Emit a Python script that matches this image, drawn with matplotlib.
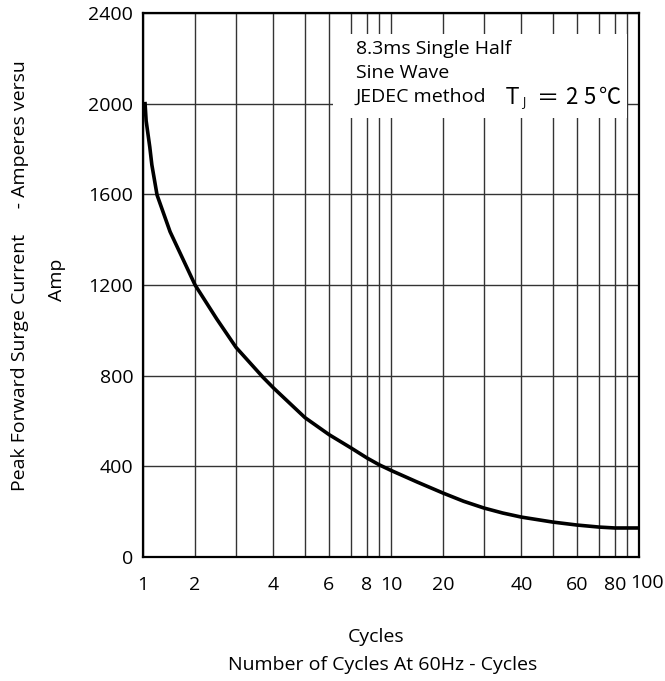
import numpy as np
import matplotlib
matplotlib.use("Agg")
import matplotlib.pyplot as plt
from matplotlib.patches import Rectangle
from matplotlib.ticker import FixedLocator, NullFormatter

# (cycles at 60 Hz vs peak surge current, A)
cycles = [1.04, 1.06, 1.13, 1.17, 1.27, 1.52, 2, 2.53, 3, 3.72, 4, 5, 6, 7, 8, 9, 10,
          15, 20, 25, 30, 35, 40, 50, 60, 70, 80, 90, 100]
current = [2000, 1925, 1809, 1730, 1597, 1435, 1200, 1050, 925, 793, 746, 615, 540,
           481, 437, 407, 382, 331, 282, 246, 216, 194, 176, 154, 141, 132, 128, 128, 128]

x_labels = [1, 2, 4, 6, 8, 10, 20, 40, 60, 80, 100]
x_grid = [3, 5, 7, 9, 30, 50, 70, 90]
y_ticks = [0, 400, 800, 1200, 1600, 2000, 2400]
notes = ["8.3ms Single Half", "Sine Wave", "JEDEC method"]

# the printed log paper is not a true log scale: position of 1..10 inside a decade
MANT = np.array([1, 2, 3, 4, 5, 6, 7, 8, 9, 10], dtype=float)
FRAC = np.array([0, 0.21, 0.375, 0.526, 0.653, 0.75, 0.839, 0.903, 0.952, 1.0])


def fwd(x):
    x = np.clip(np.asarray(x, dtype=float), 1e-3, None)
    dec = np.floor(np.log10(x) + 1e-9)
    m = x / 10.0 ** dec
    return dec + np.interp(m, MANT, FRAC)


def inv(p):
    p = np.asarray(p, dtype=float)
    dec = np.floor(p + 1e-9)
    return np.interp(p - dec, FRAC, MANT) * 10.0 ** dec


def axpos(px, py):
    # pixel position in the picture -> axes fraction
    return (px - 143) / 496, (557 - py) / 544


plt.rcParams["font.family"] = ["Open Sans", "DejaVu Sans"]
plt.rcParams["font.size"] = 14

fig = plt.figure(figsize=(6.65, 6.81), dpi=100)
ax = fig.add_axes([143 / 665, 1 - 557 / 681, 496 / 665, 544 / 681])
ax.set_xscale("function", functions=(fwd, inv))
ax.set_xlim(1, 100)
ax.set_ylim(0, 2400)

ax.plot(cycles, current, color="black", lw=2.6, solid_joinstyle="round", zorder=3)

ax.xaxis.set_major_locator(FixedLocator(x_labels))
ax.set_xticklabels([str(v) for v in x_labels[:-1]] + [""])
ax.xaxis.set_minor_locator(FixedLocator(x_grid))
ax.xaxis.set_minor_formatter(NullFormatter())
ax.set_yticks(y_ticks)
ax.tick_params(axis="both", which="both", length=0)
ax.tick_params(axis="x", pad=14)
ax.tick_params(axis="y", pad=7)

ax.grid(True, which="both", axis="x", color="#333333", lw=1.0)
ax.grid(True, which="major", axis="y", color="#333333", lw=1.0)
for s in ax.spines.values():
    s.set_linewidth(1.6)

# last x label sits a little right of its grid line in the reference
fig.text(647 / 665, 1 - 583 / 681, "100", ha="center", va="center")

# white panel behind the notes, breaking the grid
ax.add_patch(Rectangle((0.383, 0.807), 0.593, 0.154, transform=ax.transAxes,
                       facecolor="white", edgecolor="none", zorder=2))

for i, line in enumerate(notes):
    ax.text(*axpos(356, 49 + 24 * i), line, transform=ax.transAxes,
            ha="left", va="center", zorder=4)
ax.text(*axpos(506, 98), "T", transform=ax.transAxes,
        ha="left", va="center", fontsize=17, zorder=4)
ax.text(*axpos(522, 102), "J", transform=ax.transAxes,
        ha="left", va="center", fontsize=9, zorder=4)
cjk = ["Noto Sans CJK SC", "DejaVu Sans"]
for ch, px in [("＝", 548), ("2", 571), ("5", 590), ("℃", 610)]:
    ax.text(*axpos(px, 98), ch, transform=ax.transAxes, ha="center", va="center",
            fontsize=16, family=cjk, fontweight="light", zorder=4)

fig.text(20 / 665, 1 - 276 / 681, "Peak Forward Surge Current     - Amperes versu",
         rotation=90, ha="center", va="center")
fig.text(57 / 665, 1 - 280 / 681, "Amp", rotation=90, ha="center", va="center")
fig.text(376 / 665, 1 - 637 / 681, "Cycles", ha="center", va="center")
fig.text(383 / 665, 1 - 665 / 681, "Number of Cycles At 60Hz - Cycles",
         ha="center", va="center")

fig.savefig("out.png", dpi=100)
